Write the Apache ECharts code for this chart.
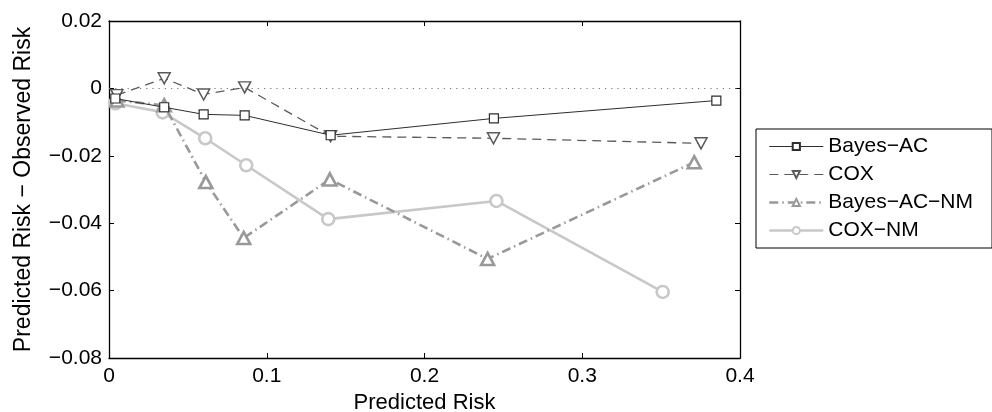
<!DOCTYPE html>
<html><head><meta charset="utf-8">
<script src="https://cdn.jsdelivr.net/npm/echarts@6/dist/echarts.min.js"></script>
<style>html,body{margin:0;padding:0;background:#fff}#c{width:992px;height:412px}</style>
</head><body><div id="c"></div>
<script>
var xTicks = [0, 0.1, 0.2, 0.3, 0.4];
var yTicks = [0.02, 0, -0.02, -0.04, -0.06, -0.08];
var seriesNames = ['Bayes\u2212AC', 'COX', 'Bayes\u2212AC\u2212NM', 'COX\u2212NM'];
var bayesAC = [[0.004,-0.003],[0.035,-0.0056],[0.060,-0.0077],[0.086,-0.008],[0.1405,-0.0139],[0.244,-0.0089],[0.385,-0.0036]];
var cox = [[0.005,-0.002],[0.035,0.003],[0.060,-0.0018],[0.086,0.0003],[0.1405,-0.0142],[0.2437,-0.0148],[0.3753,-0.0163]];
var bayesACNM = [[0.005,-0.0036],[0.035,-0.005],[0.0614,-0.0278],[0.0854,-0.0444],[0.140,-0.027],[0.240,-0.0506],[0.371,-0.0219]];
var coxNM = [[0.004,-0.0044],[0.034,-0.0071],[0.061,-0.0148],[0.087,-0.0228],[0.139,-0.0388],[0.2456,-0.0334],[0.351,-0.0604]];

var font = '"Liberation Sans", Arial, Helvetica, sans-serif';
var chart = echarts.init(document.getElementById('c'), null, {renderer:'canvas'});
function fmtY(v){ if (Math.abs(v) < 1e-12) return '0'; var s = Math.abs(v).toFixed(2); return (v<0?'\u2212':'') + s; }
function fmtX(v){ if (Math.abs(v) < 1e-12) return '0'; return v.toFixed(1); }
var axisLine = {show:true, onZero:false, lineStyle:{color:'#000', width:1.3}};
var tick = {show:true, inside:true, length:5, lineStyle:{color:'#000', width:1}};
var cols = ['#2e2e2e', '#5a5a5a', '#999999', '#c8c8c8'];
chart.setOption({
  animation:false,
  backgroundColor:'#fff',
  grid:{left:109, top:21, right:252, bottom:54, containLabel:false, outerBoundsMode:'none'},
  xAxis:[{type:'value', min:xTicks[0], max:xTicks[xTicks.length-1], interval:0.1, position:'bottom',
    axisLine:axisLine, axisTick:tick, splitLine:{show:false},
    axisLabel:{formatter:fmtX, color:'#000', fontSize:21, fontFamily:font, margin:8},
    name:'Predicted Risk', nameLocation:'middle', nameGap:31,
    nameTextStyle:{color:'#000', fontSize:22, fontFamily:font}},
   {type:'value', min:xTicks[0], max:xTicks[xTicks.length-1], interval:0.1, position:'top',
    axisLine:axisLine, axisTick:tick, splitLine:{show:false}, axisLabel:{show:false}}],
  yAxis:[{type:'value', min:yTicks[yTicks.length-1], max:yTicks[0], interval:0.02, position:'left',
    axisLine:axisLine, axisTick:tick, splitLine:{show:false},
    axisLabel:{formatter:fmtY, color:'#000', fontSize:21, fontFamily:font, margin:7},
    name:'Predicted Risk \u2212 Observed Risk', nameLocation:'middle', nameGap:74, nameRotate:90,
    nameTextStyle:{color:'#000', fontSize:23, fontFamily:font}},
   {type:'value', min:yTicks[yTicks.length-1], max:yTicks[0], interval:0.02, position:'right',
    axisLine:axisLine, axisTick:tick, splitLine:{show:false}, axisLabel:{show:false}}],
  legend:{orient:'vertical', left:756, top:129, itemWidth:54, itemHeight:9, itemGap:7,
    borderColor:'#000', borderWidth:1, borderRadius:0, padding:[7,19,7,12],
    textStyle:{color:'#000', fontSize:21, fontFamily:font, lineHeight:21},
    data:[
      {name:seriesNames[0], lineStyle:{width:1}},
      {name:seriesNames[1], lineStyle:{width:1.2}},
      {name:seriesNames[2], lineStyle:{width:2.6}},
      {name:seriesNames[3], lineStyle:{width:2.6}}
    ]},
  series:[
    {name:seriesNames[0], type:'line', data:bayesAC, symbol:'rect', symbolSize:9,
     lineStyle:{color:cols[0], width:1}, itemStyle:{color:'#fff', borderColor:cols[0], borderWidth:1.2},
     z:5,
     markLine:{silent:true, symbol:'none', label:{show:false},
       lineStyle:{color:'#777', type:[1.2,5], width:1.2}, data:[{yAxis:0}]}},
    {name:seriesNames[1], type:'line', data:cox, symbol:'triangle', symbolRotate:180, symbolSize:[12,11],
     lineStyle:{color:cols[1], width:1.3, type:[9,6]}, itemStyle:{color:'#fff', borderColor:cols[1], borderWidth:1.5}, z:4},
    {name:seriesNames[2], type:'line', data:bayesACNM, symbol:'triangle', symbolSize:[13,12],
     lineStyle:{color:cols[2], width:2.6, type:[9,4,1.5,4]}, itemStyle:{color:'#fff', borderColor:cols[2], borderWidth:2.6}, z:3},
    {name:seriesNames[3], type:'line', data:coxNM, symbol:'circle', symbolSize:12,
     lineStyle:{color:cols[3], width:2.6}, itemStyle:{color:'#fff', borderColor:cols[3], borderWidth:2.6}, z:2}
  ]
});
</script></body></html>
